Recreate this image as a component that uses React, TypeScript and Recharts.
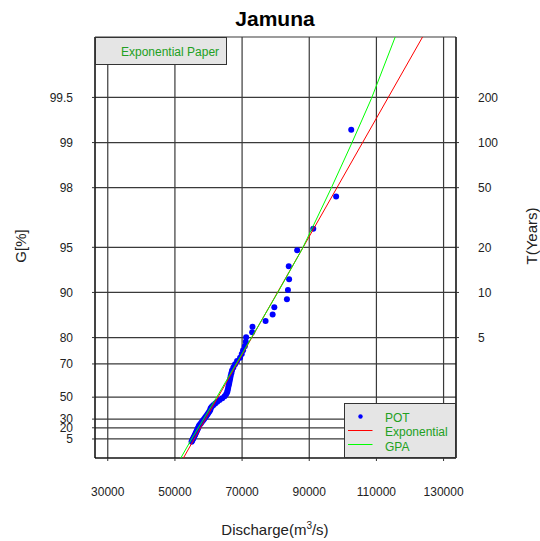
import React from 'react';
import { ScatterChart, Scatter, XAxis, YAxis, CartesianGrid, Legend } from 'recharts';

// axis ticks
const xTicks = [30000, 50000, 70000, 90000, 110000, 130000];
const gTicks = [5, 20, 30, 50, 70, 80, 90, 95, 98, 99, 99.5];
const tTicks = [5, 10, 20, 50, 100, 200];

// POT sample: non-exceedance probability G [%] and discharge [m3/s]
const potG = [
  99.18, 97.71, 96.24, 94.77, 93.31, 91.84, 90.37, 88.9, 87.43, 85.97,
  84.5, 83.03, 81.56, 80.1, 78.63, 77.16, 75.69, 74.22, 72.76, 71.29,
  69.82, 68.35, 66.88, 65.41, 63.94, 62.48, 61.01, 59.54, 58.07, 56.6,
  55.13, 53.66, 52.2, 50.73, 49.26, 47.79, 46.32, 44.86, 43.39, 41.92,
  40.45, 38.98, 37.51, 36.04, 34.58, 33.11, 31.64, 30.17, 28.7, 27.23,
  25.76, 24.3, 22.83, 21.36, 19.89, 18.42, 16.95, 15.48, 14.02, 12.55,
  11.08, 9.61, 8.14, 6.67, 5.2, 3.74, 2.27, 0.82,
];
const potQ = [
  102500, 98000, 91200, 86400, 83900, 84000, 83650, 83350, 79600, 79100,
  77000, 73100, 73000, 71200, 71100, 70800, 70300, 69900, 69400, 68500,
  67900, 67400, 67000, 66800, 66600, 66450, 66300, 66150, 66000, 65850,
  65700, 65550, 65250, 64800, 64100, 63300, 62600, 62000, 61400, 60900,
  60600, 60500, 60200, 59900, 59600, 59300, 59000, 58700, 58400, 58100,
  57800, 57500, 57200, 57050, 56900, 56750, 56600, 56450, 56300, 56150,
  56000, 55850, 55700, 55550, 55400, 55250, 55100, 54950,
];

// fitted curves, given on the reduced variate -ln(1-G) of the paper
const expY = [-0.241, 6.227];
const expQ = [52530, 123740];
const gpaY = [-0.241, 0.05, 0.68, 1.6, 2.29, 2.97, 3.9, 4.6, 5.28, 6.227];
const gpaQ = [51750, 54950, 62300, 72700, 80500, 87900, 96500, 102700, 108500, 115600];

const X_DOMAIN: [number, number] = [26200, 133700];
const Y_DOMAIN: [number, number] = [-0.241, 6.227];

const FONT = '"Liberation Sans", Arial, Helvetica, sans-serif';
const GREEN_TEXT = '#22a022';

const toY = (g: number) => -Math.log(1 - g / 100);

const potData = potG.map((g, i) => ({ q: potQ[i], y: toY(g) }));
const expData = expY.map((y, i) => ({ q: expQ[i], y }));
const gpaData = gpaY.map((y, i) => ({ q: gpaQ[i], y }));

const gLabel = (v: number) => {
  const g = gTicks.find((t) => Math.abs(toY(t) - v) < 1e-9);
  return g === undefined ? '' : String(g);
};
const tLabel = (v: number) => {
  const t = tTicks.find((t) => Math.abs(Math.log(t) - v) < 1e-9);
  return t === undefined ? '' : String(t);
};

const Dot = (props: any) => <circle cx={props.cx} cy={props.cy} r={3} fill="#0000ff" />;
const NoDot = () => <g />;

const LegendBox = () => (
  <svg width={112} height={55} style={{ display: 'block' }}>
    <rect x={0.5} y={0.5} width={111} height={54} fill="#e5e5e5" stroke="#333" />
    <circle cx={16.5} cy={13.5} r={2.2} fill="#0000ff" />
    <line x1={4} x2={28.5} y1={27.5} y2={27.5} stroke="#ff0000" strokeWidth={1} />
    <line x1={4} x2={28.5} y1={41.5} y2={41.5} stroke="#00ff00" strokeWidth={1} />
    <g fontFamily={FONT} fontSize={12} fill={GREEN_TEXT}>
      <text x={41} y={18.5}>POT</text>
      <text x={41} y={33}>Exponential</text>
      <text x={41} y={47.5}>GPA</text>
    </g>
  </svg>
);

export default function App() {
  const tickStyle = { fill: '#222', fontSize: 12, fontFamily: FONT };
  return (
    <div style={{ position: 'absolute', left: 0, top: 0, width: 540, height: 541, background: '#fff', fontFamily: FONT }}>
      <div style={{ position: 'absolute', left: 175, top: 6, width: 200, textAlign: 'center', fontSize: 21, fontWeight: 'bold', color: '#000', lineHeight: '26px' }}>
        Jamuna
      </div>

      <ScatterChart width={540} height={541} margin={{ top: 37, right: 0, bottom: 0, left: 0 }}>
        <CartesianGrid xAxisId="bottom" yAxisId="left" stroke="#3a3a3a" strokeWidth={1.2} fill="none" />
        <XAxis
          xAxisId="bottom"
          type="number"
          dataKey="q"
          domain={X_DOMAIN}
          allowDataOverflow
          ticks={xTicks}
          interval={0}
          height={83}
          tickSize={3}
          tickMargin={26}
          tick={tickStyle}
          axisLine={{ stroke: '#000' }}
          tickLine={{ stroke: '#333' }}
        />
        <XAxis
          xAxisId="top"
          orientation="top"
          type="number"
          dataKey="q"
          domain={X_DOMAIN}
          allowDataOverflow
          height={0}
          tick={false}
          tickLine={false}
          axisLine={{ stroke: '#000' }}
        />
        <YAxis
          yAxisId="left"
          type="number"
          dataKey="y"
          domain={Y_DOMAIN}
          allowDataOverflow
          ticks={gTicks.map(toY)}
          interval={0}
          tickFormatter={gLabel}
          width={95}
          tickSize={3}
          tickMargin={19}
          tick={tickStyle}
          axisLine={{ stroke: '#000' }}
          tickLine={{ stroke: '#333' }}
        />
        <YAxis
          yAxisId="right"
          orientation="right"
          type="number"
          dataKey="y"
          domain={Y_DOMAIN}
          allowDataOverflow
          ticks={tTicks.map((t) => Math.log(t))}
          interval={0}
          tickFormatter={tLabel}
          width={84}
          tickSize={3}
          tickMargin={19}
          tick={tickStyle}
          axisLine={{ stroke: '#000' }}
          tickLine={{ stroke: '#333' }}
        />
        <Scatter
          name="POT"
          data={potData}
          xAxisId="bottom"
          yAxisId="left"
          shape={Dot}
          isAnimationActive={false}
        />
        <Scatter
          name="Exponential"
          data={expData}
          xAxisId="bottom"
          yAxisId="left"
          shape={NoDot}
          line={{ stroke: '#ff0000', strokeWidth: 1 }}
          lineType="joint"
          isAnimationActive={false}
        />
        <Scatter
          name="GPA"
          data={gpaData}
          xAxisId="bottom"
          yAxisId="left"
          shape={NoDot}
          line={{ stroke: '#00ff00', strokeWidth: 1 }}
          lineType="joint"
          isAnimationActive={false}
        />
        <Legend
          layout="vertical"
          align="center"
          verticalAlign="middle"
          content={LegendBox}
          wrapperStyle={{ left: 344, top: 403, width: 112, height: 55 }}
        />
      </ScatterChart>

      <div style={{ position: 'absolute', left: 95, top: 37, width: 132, height: 28, boxSizing: 'border-box', background: '#e5e5e5', border: '1px solid #333' }}>
        <span style={{ position: 'absolute', left: 25, top: 7, fontSize: 12, lineHeight: '14px', color: GREEN_TEXT, whiteSpace: 'nowrap' }}>
          Exponential Paper
        </span>
      </div>

      <div style={{ position: 'absolute', left: 175, top: 521, width: 200, textAlign: 'center', fontSize: 15, lineHeight: '18px', color: '#222' }}>
        Discharge(m<sup style={{ fontSize: 10, lineHeight: 0 }}>3</sup>/s)
      </div>
      <div style={{ position: 'absolute', left: 21 - 50, top: 246 - 9, width: 100, textAlign: 'center', fontSize: 15, lineHeight: '18px', color: '#222', transform: 'rotate(-90deg)' }}>
        G[%]
      </div>
      <div style={{ position: 'absolute', left: 532 - 50, top: 236 - 9, width: 100, textAlign: 'center', fontSize: 15, lineHeight: '18px', color: '#222', transform: 'rotate(-90deg)' }}>
        T(Years)
      </div>
    </div>
  );
}
